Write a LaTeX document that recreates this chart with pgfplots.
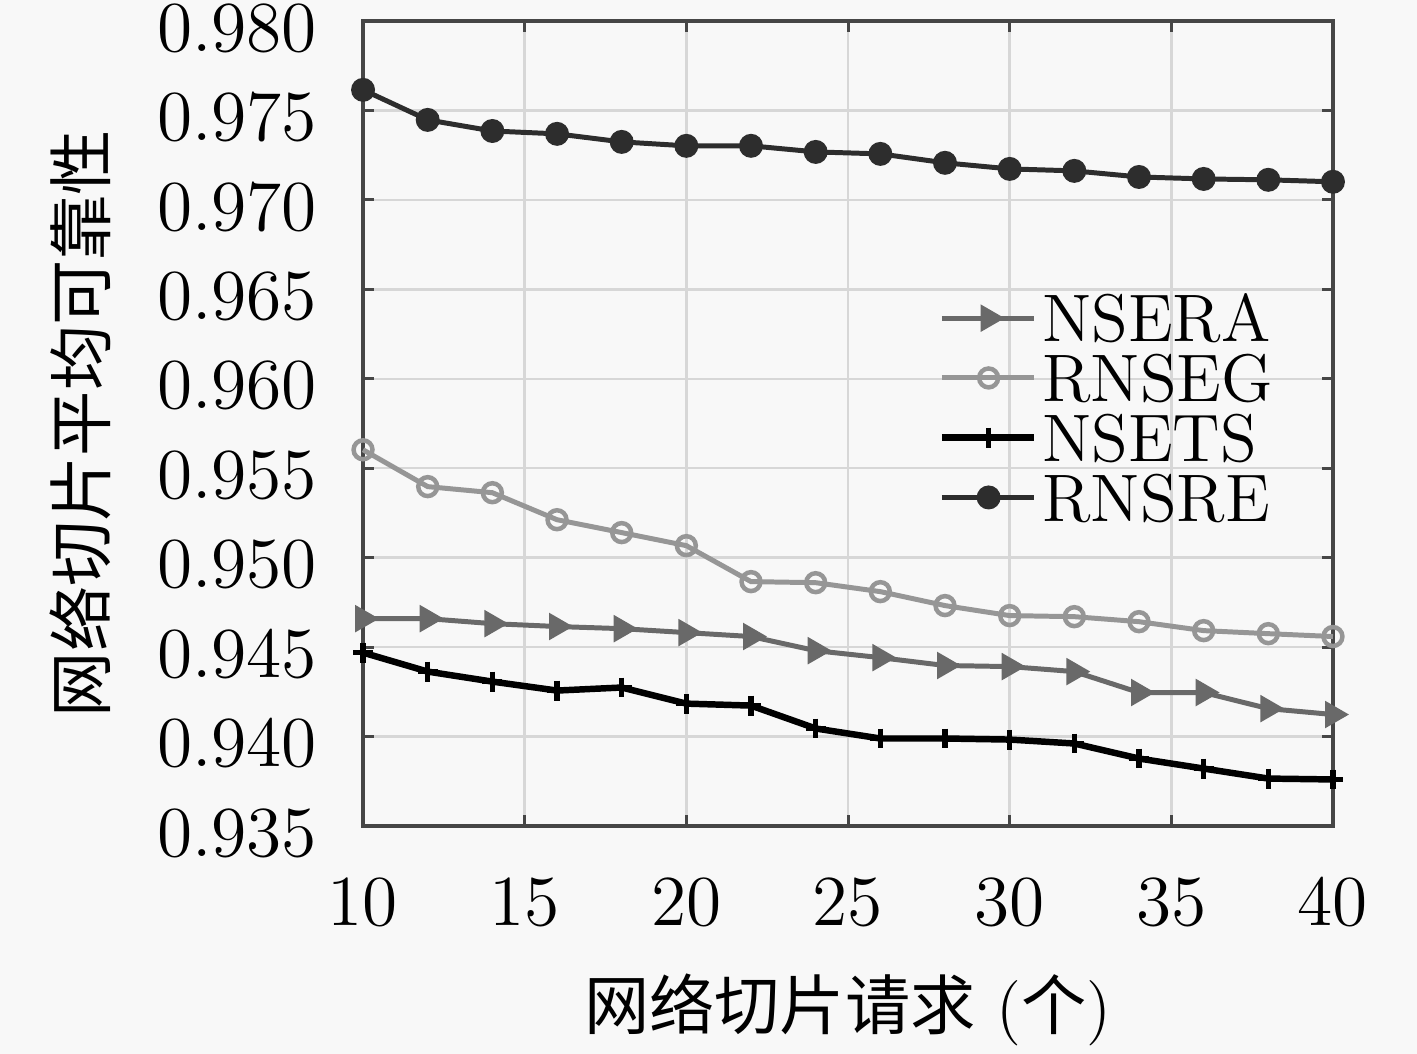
\documentclass[border=0pt]{standalone}
\usepackage{pgfplots}
\pgfplotsset{compat=1.18}
\usepackage{fontspec}
\newfontfamily\cjk{Noto Sans CJK SC}
\definecolor{bgc}{RGB}{248,248,248}
\definecolor{cNSERA}{RGB}{105,105,105}
\definecolor{cRNSEG}{RGB}{150,150,150}
\definecolor{cNSETS}{RGB}{0,0,0}
\definecolor{cRNSRE}{RGB}{45,45,45}
\definecolor{gridc}{RGB}{215,215,215}
\definecolor{axc}{RGB}{70,70,70}
\begin{document}
\begin{tikzpicture}
\path[use as bounding box, fill=bgc] (-2.562cm,-1.609cm) rectangle (7.438cm,5.829cm);
\begin{axis}[
  scale only axis,
  width=6.845cm, height=5.681cm,
  xmin=10, xmax=40, ymin=0.935, ymax=0.980,
  xtick={10,15,...,40},
  ytick={0.935,0.940,...,0.980},
  yticklabel style={/pgf/number format/fixed, /pgf/number format/fixed zerofill, /pgf/number format/precision=3, xshift=-0.2cm, yshift=-0.05cm},
  xticklabel style={yshift=-0.25cm},
  tick label style={font=\fontsize{13.5}{16}\selectfont},
  label style={font=\fontsize{13.1}{16}\selectfont},
  grid=major,
  major grid style={gridc, line width=0.5pt},
  axis line style={axc, line width=0.7pt},
  tick style={axc, line width=0.6pt},
  major tick length=0.08cm,
  xlabel={{\cjk 网络切片请求} ({\cjk 个})},
  ylabel={\cjk 网络切片平均可靠性},
  xlabel style={at={(axis description cs:0.5,-0.2286)}, anchor=center},
  ylabel style={at={(axis description cs:-0.2918,0.5)}, anchor=center, rotate=0},
  legend style={at={(rel axis cs:0.577,0.68)}, anchor=north west, draw=none, fill=none,
    font=\fontsize{13.5}{13.5}\selectfont, row sep=0.5pt,
    nodes={inner sep=1pt, text height=9.5pt, text depth=0pt}},
  legend cell align=left,
  legend image code/.code={\draw[mark repeat=2,mark phase=2] plot coordinates {(0cm,0cm)(0.33cm,0cm)(0.65cm,0cm)};},
  clip=false,
]
\addplot[cNSERA, line width=1pt, mark=triangle*, mark options={rotate=-90, solid}, mark size=2.2pt] coordinates {
(10,0.94659)(12,0.94659)(14,0.94631)(16,0.94615)(18,0.94603)(20,0.94581)(22,0.94559)(24,0.94480)
(26,0.94441)(28,0.94397)(30,0.94391)(32,0.94363)(34,0.94246)(36,0.94246)(38,0.94156)(40,0.94123)};
\addlegendentry{NSERA}
\addplot[cRNSEG, line width=1pt, mark=o, mark options={solid, line width=0.9pt}, mark size=1.9pt] coordinates {
(10,0.95603)(12,0.95397)(14,0.95363)(16,0.95212)(18,0.95140)(20,0.95067)(22,0.94866)(24,0.94860)
(26,0.94810)(28,0.94732)(30,0.94676)(32,0.94670)(34,0.94642)(36,0.94592)(38,0.94575)(40,0.94559)};
\addlegendentry{RNSEG}
\addplot[cNSETS, line width=1.3pt, mark=+, mark options={solid, line width=1.1pt}, mark size=2pt] coordinates {
(10,0.94469)(12,0.94363)(14,0.94307)(16,0.94257)(18,0.94274)(20,0.94184)(22,0.94173)(24,0.94045)
(26,0.93989)(28,0.93989)(30,0.93983)(32,0.93961)(34,0.93877)(36,0.93821)(38,0.93765)(40,0.93760)};
\addlegendentry{NSETS}
\addplot[cRNSRE, line width=1pt, mark=*, mark options={solid}, mark size=1.9pt] coordinates {
(10,0.97615)(12,0.97447)(14,0.97385)(16,0.97369)(18,0.97324)(20,0.97302)(22,0.97302)(24,0.97268)
(26,0.97257)(28,0.97207)(30,0.97173)(32,0.97162)(34,0.97128)(36,0.97117)(38,0.97112)(40,0.97101)};
\addlegendentry{RNSRE}
\end{axis}
\end{tikzpicture}
\end{document}
